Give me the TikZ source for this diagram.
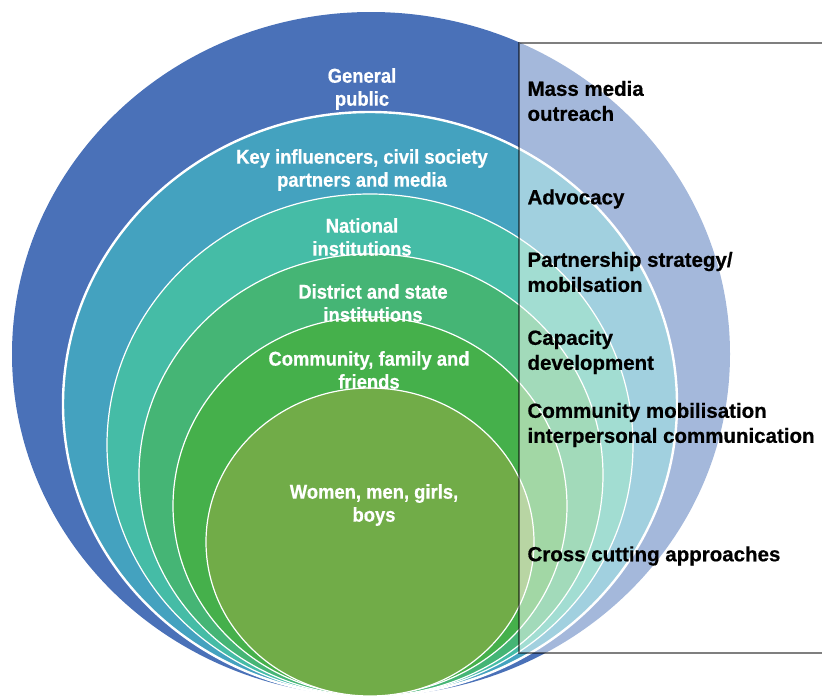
\documentclass[tikz,border=0pt]{standalone}
\usepackage{fontspec}
\setmainfont[FakeBold=0.6]{Liberation Sans}
\newfontfamily\ringfont[FakeStretch=0.92,FakeBold=0.6]{Liberation Sans}
\definecolor{publicblue}{HTML}{4A71B8}
\definecolor{keyteal}{HTML}{44A2BF}
\definecolor{nationalteal}{HTML}{45BCA6}
\definecolor{districtgreen}{HTML}{45B575}
\definecolor{communitygreen}{HTML}{45B04B}
\definecolor{peopleolive}{HTML}{71AC48}

\begin{document}
\begin{tikzpicture}[x=1pt, y=-1pt,
  ring/.style={draw=white, line width=1.2pt},
  ringlabel/.style={text=white, align=center, font=\ringfont\bfseries\fontsize{20}{23}\selectfont},
  approach/.style={anchor=west, align=left, font=\bfseries\fontsize{20.5}{25}\selectfont}]
  \useasboundingbox (0,0) rectangle (822,696);
  % nested audiences, all resting on the same bottom point
  \fill[publicblue] (371,354) ellipse [x radius=359pt, y radius=342pt];
  \path[ring, line width=2.4pt, fill=keyteal] (370,404) ellipse [x radius=307pt, y radius=292pt];
  \path[ring, fill=nationalteal] (370,445) ellipse [x radius=263pt, y radius=251pt];
  \path[ring, fill=districtgreen] (371,475) ellipse [x radius=232pt, y radius=221pt];
  \path[ring, fill=communitygreen] (370,506) ellipse [x radius=197pt, y radius=189pt];
  \path[ring, fill=peopleolive] (370,542) ellipse [x radius=164pt, y radius=154pt];

  % approaches panel on the right
  \fill[white, fill opacity=0.5] (519,43) rectangle (822,653);
  \draw[black, draw opacity=0.5, line width=1.5pt] (822,43) -- (519,43) -- (519,653) -- (822,653);

  \node[ringlabel] (public) at (362,89) {General\\public};
  \node[ringlabel] (influencers) at (362,170) {Key influencers, civil society\\partners and media};
  \node[ringlabel] (national) at (362,237) {National\\institutions};
  \node[ringlabel] (district) at (373,303) {District and state\\institutions};
  \node[ringlabel] (community) at (369,370) {Community, family and\\friends};
  \node[ringlabel] (people) at (374,505) {Women, men, girls,\\boys};

  \node[approach] (massmedia) at (524,101) {Mass media\\outreach};
  \node[approach] (advocacy) at (524,199) {Advocacy};
  \node[approach] (partnership) at (524,272) {Partnership strategy/\\mobilsation};
  \node[approach] (capacity) at (524,352) {Capacity\\development};
  \node[approach] (mobilisation) at (524,425) {Community mobilisation\\interpersonal communication};
  \node[approach] (crosscutting) at (524,556) {Cross cutting approaches};
\end{tikzpicture}
\end{document}
